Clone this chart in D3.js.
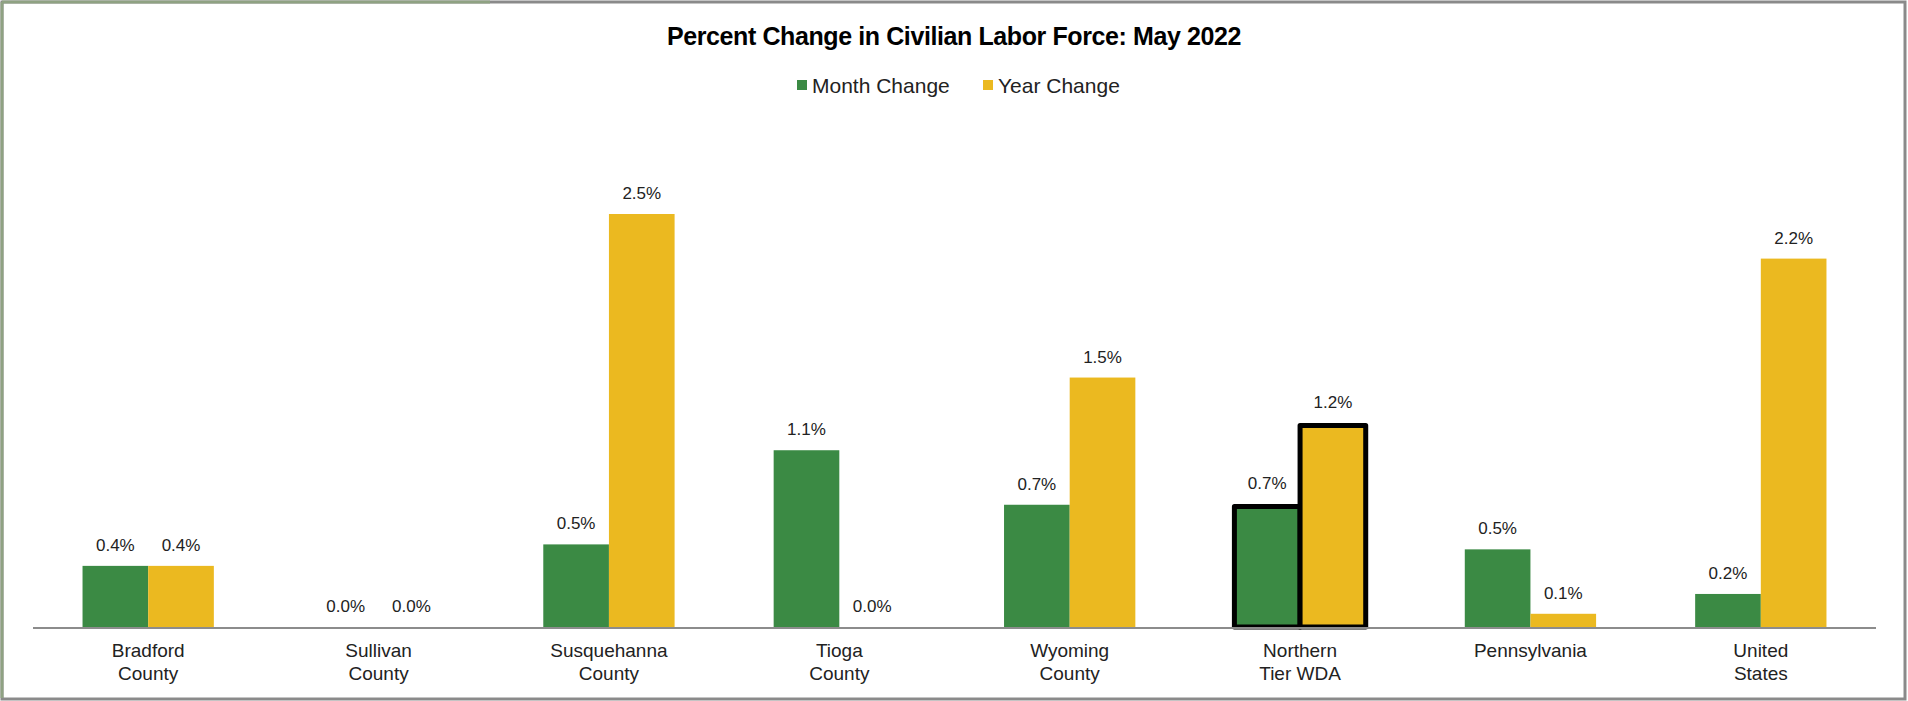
<!DOCTYPE html>
<html>
<head>
<meta charset="utf-8">
<script src="https://cdn.jsdelivr.net/npm/d3@7"></script>
<style>
	html, body { margin: 0; padding: 0; background: #fff; }
	svg { display: block; font-family: "Liberation Sans", Arial, sans-serif; }
</style>
</head>
<body>
<svg id="chart" width="1908" height="701"></svg>
<script>
// chart data
var categories = [
	["Bradford", "County"],
	["Sullivan", "County"],
	["Susquehanna", "County"],
	["Tioga", "County"],
	["Wyoming", "County"],
	["Northern", "Tier WDA"],
	["Pennsylvania"],
	["United", "States"]
];
var seriesNames = ["Month Change", "Year Change"];
var monthChange = [0.37, 0.0, 0.5, 1.07, 0.74, 0.73, 0.47, 0.2];
var yearChange = [0.37, 0.0, 2.5, 0.0, 1.51, 1.22, 0.08, 2.23];
var highlighted = 5; // Northern Tier WDA gets the black outline

var colors = ["#3b8a44", "#ebb920"];
var W = 1908, H = 701;

var svg = d3.select("#chart");

// frame
svg.append("rect")
	.attr("x", 2).attr("y", 2)
	.attr("width", W - 5).attr("height", H - 4)
	.attr("fill", "#fff")
	.attr("stroke", "#8a8a8a")
	.attr("stroke-width", 3);
svg.append("path")
	.attr("d", "M2,2H490M2,2V698")
	.attr("stroke", "#8fa283")
	.attr("stroke-width", 3)
	.attr("fill", "none");

// title
svg.append("text")
	.attr("x", 954).attr("y", 45)
	.attr("text-anchor", "middle")
	.attr("font-size", 25)
	.attr("font-weight", "bold")
	.attr("letter-spacing", "-0.4px")
	.attr("fill", "#000")
	.text("Percent Change in Civilian Labor Force: May 2022");

// legend
var legendX = [797, 983];
var legend = svg.append("g").selectAll("g")
	.data(seriesNames).enter()
	.append("g")
		.attr("transform", function(d, i) { return "translate(" + legendX[i] + ",85)"; });
legend.append("rect")
	.attr("x", 0).attr("y", -5)
	.attr("width", 10).attr("height", 10)
	.attr("fill", function(d, i) { return colors[i]; });
legend.append("text")
	.attr("x", 15).attr("y", 7.5)
	.attr("font-size", 21)
	.attr("fill", "#222")
	.text(function(d) { return d; });

// scales
var x0 = d3.scaleBand()
	.domain(d3.range(categories.length))
	.range([33, 1876])
	.paddingInner(0.43)
	.paddingOuter(0.215);
var x1 = d3.scaleBand()
	.domain([0, 1])
	.range([0, x0.bandwidth()]);
var y = d3.scaleLinear()
	.domain([0, 2.5])
	.range([627, 214]);

var rows = categories.map(function(c, i) {
	return {i: i, label: c, values: [monthChange[i], yearChange[i]]};
});

// bars
var groups = svg.append("g").selectAll("g")
	.data(rows).enter()
	.append("g")
		.attr("transform", function(d) { return "translate(" + x0(d.i) + ",0)"; });

groups.selectAll("rect")
	.data(function(d) {
		return d.values.map(function(v, s) { return {v: v, s: s, row: d.i}; });
	}).enter()
	.append("rect")
		.attr("x", function(d) { return x1(d.s); })
		.attr("y", function(d) { return y(d.v); })
		.attr("width", x1.bandwidth())
		.attr("height", function(d) { return y(0) - y(d.v); })
		.attr("fill", function(d) { return colors[d.s]; })
		.attr("stroke", function(d) { return d.row == highlighted ? "#000" : "none"; })
		.attr("stroke-width", 5)
		.attr("stroke-linejoin", "round");

// value labels
groups.selectAll("text.val")
	.data(function(d) {
		return d.values.map(function(v, s) { return {v: v, s: s, row: d.i}; });
	}).enter()
	.append("text")
		.attr("class", "val")
		.attr("x", function(d) { return x1(d.s) + x1.bandwidth() / 2; })
		.attr("y", function(d) { return y(d.v) - (d.row == highlighted ? 17 : 15); })
		.attr("text-anchor", "middle")
		.attr("font-size", 17)
		.attr("fill", "#222")
		.text(function(d) { return d.v.toFixed(1) + "%"; });

// axis line
svg.append("line")
	.attr("x1", x0.range()[0]).attr("x2", x0.range()[1])
	.attr("y1", y(0) + 1).attr("y2", y(0) + 1)
	.attr("stroke", "#8c8c8c")
	.attr("stroke-width", 2);

// category labels
var catLabels = svg.append("g").selectAll("text")
	.data(rows).enter()
	.append("text")
		.attr("x", function(d) { return x0(d.i) + x0.bandwidth() / 2; })
		.attr("y", 657)
		.attr("text-anchor", "middle")
		.attr("font-size", 19)
		.attr("fill", "#222");
catLabels.selectAll("tspan")
	.data(function(d) { return d.label; }).enter()
	.append("tspan")
		.attr("x", function() { return d3.select(this.parentNode).attr("x"); })
		.attr("dy", function(d, i) { return i == 0 ? 0 : 23; })
		.text(function(d) { return d; });
</script>
</body>
</html>
